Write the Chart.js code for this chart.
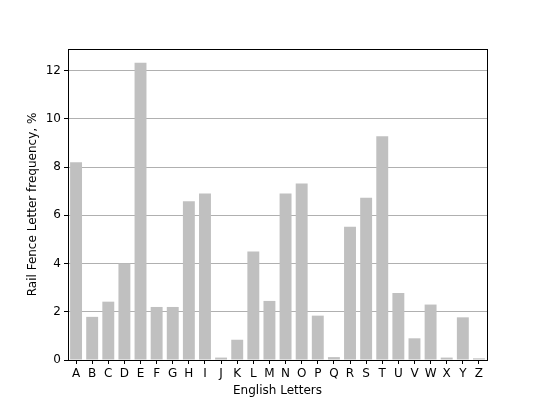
<!DOCTYPE html>
<html>
<head>
<meta charset="utf-8">
<script src="https://cdn.jsdelivr.net/npm/chart.js@4/dist/chart.umd.min.js"></script>
<style>
html,body{margin:0;padding:0;background:#fff;}
#wrap{width:540px;height:405px;}
</style>
</head>
<body>
<div id="wrap"><canvas id="c" width="540" height="405"></canvas></div>
<script>
const letters = ["A","B","C","D","E","F","G","H","I","J","K","L","M","N","O","P","Q","R","S","T","U","V","W","X","Y","Z"];
const frequency = [8.2,1.79,2.42,4.0,12.33,2.2,2.2,6.58,6.91,0.1,0.84,4.5,2.45,6.91,7.32,1.84,0.12,5.53,6.73,9.28,2.78,0.9,2.3,0.1,1.77,0.07];
const yTicks = [0,2,4,6,8,10,12];
const yMax = 12.9;

const frame = {
  id:'frame',
  afterDraw(chart){
    const a = chart.chartArea, ctx = chart.ctx;
    ctx.save();
    ctx.strokeStyle = '#000';
    ctx.lineWidth = 1;
    ctx.strokeRect(Math.round(a.left)+0.5, Math.round(a.top)+0.5, Math.round(a.right-a.left), Math.round(a.bottom-a.top));
    ctx.restore();
  }
};

const font = {family:'DejaVu Sans', size:12};
new Chart(document.getElementById('c'), {
  type:'bar',
  data:{labels:letters, datasets:[{data:frequency, backgroundColor:'#c0c0c0', borderWidth:0, barPercentage:0.74, categoryPercentage:1}]},
  options:{
    responsive:false, animation:false,
    layout:{padding:{left:20, right:53, top:49, bottom:7}},
    plugins:{legend:{display:false}, tooltip:{enabled:false}},
    scales:{
      x:{
        offset:true,
        grid:{display:true, drawOnChartArea:false, drawTicks:true, tickLength:4, tickColor:'#000', offset:false},
        border:{display:true, color:'#000'},
        ticks:{color:'#000', font:font, padding:3, maxRotation:0, autoSkip:false},
        title:{display:true, text:'English Letters', color:'#000', font:font, padding:{top:0,bottom:0}},
        afterFit(s){ s.height = 38; }
      },
      y:{
        min:0, max:yMax,
        afterBuildTicks(s){ s.ticks = yTicks.map(v=>({value:v})); },
        grid:{color:'#b0b0b0', tickColor:'#000', tickLength:4, drawTicks:true},
        border:{display:true, color:'#000'},
        ticks:{color:'#000', font:font, padding:3},
        title:{display:true, text:'Rail Fence Letter frequency, %', color:'#000', font:font, padding:{top:6,bottom:4}},
        afterFit(s){ s.width = 48; }
      }
    }
  },
  plugins:[frame]
});
</script>
</body>
</html>
